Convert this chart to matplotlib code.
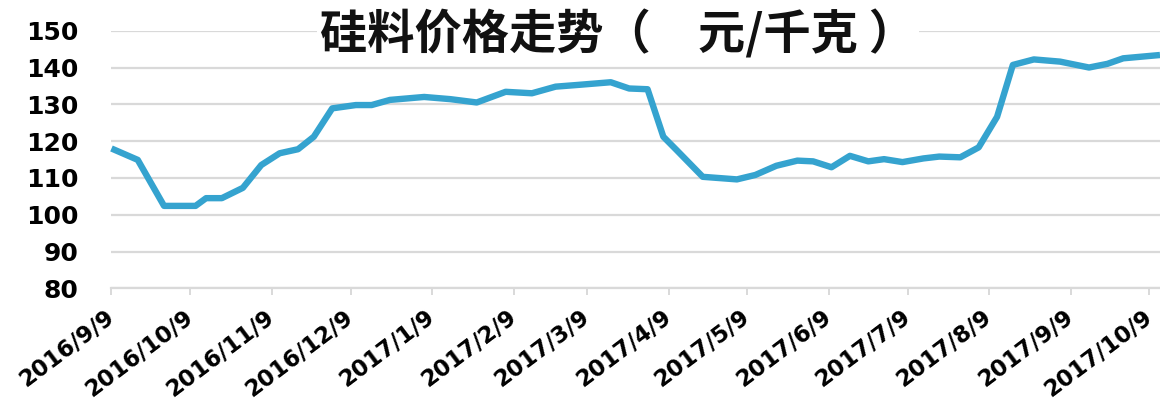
import matplotlib

matplotlib.use("Agg")
import matplotlib.pyplot as plt
import pandas as pd

# Silicon material price, yuan/kg
dates = [
    "2016-09-09", "2016-09-19", "2016-09-29", "2016-10-11", "2016-10-15",
    "2016-10-21", "2016-10-29", "2016-11-05", "2016-11-12", "2016-11-19",
    "2016-11-25", "2016-12-02", "2016-12-11", "2016-12-17", "2016-12-24",
    "2017-01-06", "2017-01-16", "2017-01-26", "2017-02-06", "2017-02-16",
    "2017-02-25", "2017-03-06", "2017-03-18", "2017-03-25", "2017-04-01",
    "2017-04-07", "2017-04-12", "2017-04-22", "2017-05-05", "2017-05-12",
    "2017-05-20", "2017-05-28", "2017-06-03", "2017-06-10", "2017-06-17",
    "2017-06-24", "2017-06-30", "2017-07-07", "2017-07-15", "2017-07-21",
    "2017-07-29", "2017-08-05", "2017-08-12", "2017-08-18", "2017-08-26",
    "2017-09-05", "2017-09-16", "2017-09-23", "2017-09-29", "2017-10-13",
]
prices = [
    118.0, 114.9, 102.4, 102.4, 104.5,
    104.5, 107.3, 113.5, 116.7, 117.8,
    121.2, 128.9, 129.8, 129.8, 131.2,
    132.0, 131.4, 130.5, 133.4, 133.0,
    134.8, 135.3, 136.0, 134.3, 134.1,
    121.2, 117.6, 110.3, 109.6, 110.8,
    113.3, 114.7, 114.5, 112.9, 116.0,
    114.5, 115.1, 114.3, 115.3, 115.8,
    115.6, 118.3, 126.6, 140.7, 142.2,
    141.6, 140.0, 141.0, 142.5, 143.4,
]
tick_dates = [
    "2016-09-09", "2016-10-09", "2016-11-09", "2016-12-09", "2017-01-09",
    "2017-02-09", "2017-03-09", "2017-04-09", "2017-05-09", "2017-06-09",
    "2017-07-09", "2017-08-09", "2017-09-09", "2017-10-09",
]
tick_labels = [
    "2016/9/9", "2016/10/9", "2016/11/9", "2016/12/9", "2017/1/9",
    "2017/2/9", "2017/3/9", "2017/4/9", "2017/5/9", "2017/6/9",
    "2017/7/9", "2017/8/9", "2017/9/9", "2017/10/9",
]
y_ticks = [80, 90, 100, 110, 120, 130, 140, 150]
title = "硅料价格走势（　元/千克 ）"

x = pd.to_datetime(dates)
xt = pd.to_datetime(tick_dates)

fig = plt.figure(figsize=(11.6, 4.01), dpi=100)
ax = fig.add_axes([0.0961, 0.281, 0.9039, 0.6424])

ax.plot(x, prices, color="#35a3cf", lw=4.6, solid_joinstyle="round",
        solid_capstyle="butt", zorder=3, clip_on=False)

ax.set_xlim(pd.Timestamp("2016-09-09"), pd.Timestamp("2017-10-13"))
ax.set_ylim(80, 150)
ax.set_yticks(y_ticks)
ax.set_xticks(xt)
ax.set_xticklabels(tick_labels)

ax.grid(axis="y", color="#d9d9d9", lw=1.6, zorder=0)
for side in ("left", "right", "top"):
    ax.spines[side].set_visible(False)
ax.spines["bottom"].set_color("#d9d9d9")
ax.spines["bottom"].set_linewidth(1.6)

ax.tick_params(axis="y", length=0, pad=24)
ax.tick_params(axis="x", length=5, width=1.4, color="#d9d9d9", pad=14)
for lab in ax.get_yticklabels():
    lab.set_fontfamily("DejaVu Sans")
    lab.set_fontweight("bold")
    lab.set_fontsize(18)
for lab in ax.get_xticklabels():
    lab.set_fontfamily("DejaVu Sans")
    lab.set_fontweight("bold")
    lab.set_fontsize(16.5)
    lab.set_rotation(37)
    lab.set_ha("right")
    lab.set_va("center")
    lab.set_rotation_mode("anchor")

# title sits on top of the plot, masking the top gridline
fig.text(0.276, 0.914, title, ha="left", va="center",
         family=["Noto Sans CJK SC", "DejaVu Sans"], fontweight="bold",
         fontsize=34, color="#111111", zorder=5,
         bbox=dict(facecolor="white", edgecolor="none", pad=2))

fig.savefig("out.png", dpi=100)
